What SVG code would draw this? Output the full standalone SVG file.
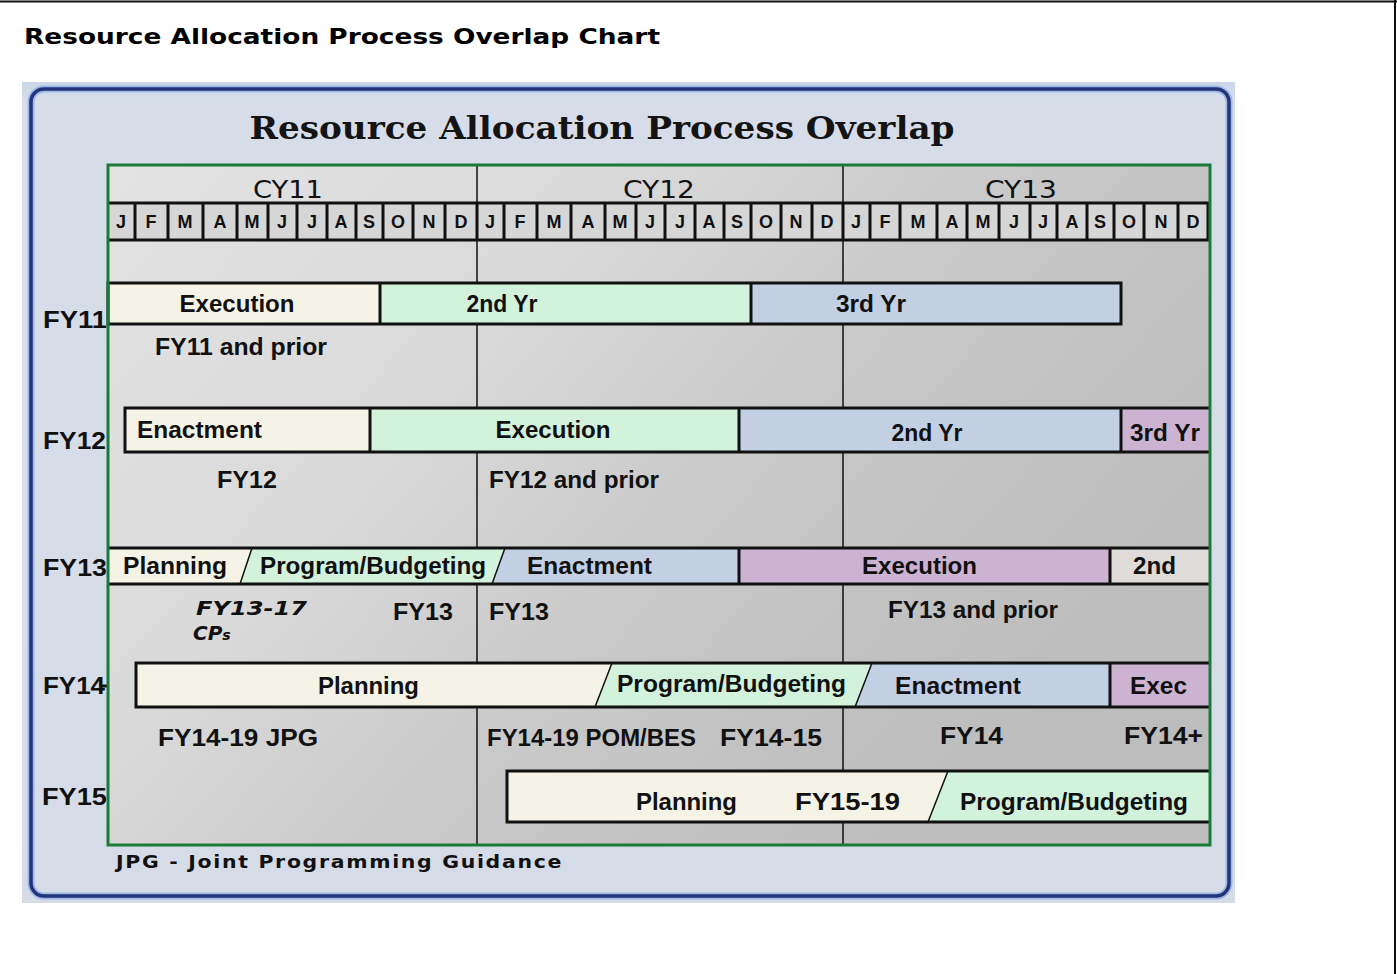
<svg xmlns="http://www.w3.org/2000/svg" width="1397" height="974" viewBox="0 0 1397 974">
<defs>
<linearGradient id="chartBg" x1="0" y1="0" x2="1" y2="0.55">
<stop offset="0" stop-color="#e3e3e3"/>
<stop offset="0.35" stop-color="#dadada"/>
<stop offset="0.6" stop-color="#cbcbcb"/>
<stop offset="0.8" stop-color="#c2c2c2"/>
<stop offset="1" stop-color="#bdbdbd"/>
</linearGradient>
<linearGradient id="panelBg" x1="0" y1="0" x2="0" y2="1">
<stop offset="0" stop-color="#c9d6ea"/>
<stop offset="0.02" stop-color="#d6dde9"/>
<stop offset="1" stop-color="#d6dce7"/>
</linearGradient>
<style>
.bt{font-family:"Liberation Sans",Arial,sans-serif;font-weight:bold;font-size:23px;fill:#111;text-anchor:middle}
.fy{font-family:"Liberation Sans",Arial,sans-serif;font-weight:bold;font-size:23px;fill:#111}
.mo{font-family:"Liberation Sans",Arial,sans-serif;font-weight:bold;font-size:18px;fill:#111;text-anchor:middle}
.cy{font-family:"DejaVu Sans",Verdana,sans-serif;font-size:24px;fill:#111;text-anchor:middle}
.it{font-family:"DejaVu Sans",Verdana,sans-serif;font-weight:bold;font-style:italic;font-size:20px;fill:#111}
.cream{fill:#f5f3e6}
.mint{fill:#d2f2dc}
.blue{fill:#c3cfe3}
.purple{fill:#cdb3d2}
.gray2{fill:#dfdbd9}
.ol{fill:none;stroke:#111;stroke-width:3}
.sep{stroke:#111;stroke-width:3}
.sl{stroke:#111;stroke-width:1.5}
.grid{stroke:#111;stroke-width:1.5}
</style>
</defs>
<rect x="0" y="0" width="1397" height="974" fill="#ffffff"/>
<g id="page-frame">
<line x1="0" y1="1.5" x2="1397" y2="1.5" stroke="#111" stroke-width="2"/>
<line x1="1395" y1="0" x2="1395" y2="974" stroke="#111" stroke-width="2"/>
</g>
<text id="page-title" x="24" y="44" font-family="DejaVu Sans, Verdana, sans-serif" font-weight="bold" font-size="21" fill="#000" textLength="636" lengthAdjust="spacingAndGlyphs">Resource Allocation Process Overlap Chart</text>

<g id="panel">
<rect x="22" y="82" width="1213" height="821" fill="url(#panelBg)"/>
<rect x="31" y="89" width="1198" height="807" rx="13" fill="none" stroke="#9bb8e6" stroke-width="7"/>
<rect x="31" y="89" width="1198" height="807" rx="13" fill="none" stroke="#25337a" stroke-width="3.5"/>
<text x="602" y="139" font-family="DejaVu Serif, Georgia, serif" font-weight="bold" font-size="31" fill="#141414" text-anchor="middle" textLength="705" lengthAdjust="spacingAndGlyphs">Resource Allocation Process Overlap</text>
</g>

<g id="chart-area">
<rect x="108" y="165" width="1102" height="680" fill="url(#chartBg)"/>
</g>

<g id="grid">
<line class="grid" x1="477" y1="165" x2="477" y2="845"/>
<line class="grid" x1="843" y1="165" x2="843" y2="845"/>
</g>

<g id="year-header">
<text class="cy" x="288" y="198" textLength="70" lengthAdjust="spacingAndGlyphs">CY11</text>
<text class="cy" x="659" y="198" textLength="72" lengthAdjust="spacingAndGlyphs">CY12</text>
<text class="cy" x="1021" y="198" textLength="72" lengthAdjust="spacingAndGlyphs">CY13</text>
</g>

<g id="month-row">
<rect x="108" y="203" width="1102" height="37" fill="#d6d6d6"/>
<line class="sep" x1="108" y1="203" x2="1210" y2="203"/>
<line class="sep" x1="108" y1="240" x2="1210" y2="240"/>
<g class="sep">
<line x1="135" y1="203" x2="135" y2="240"/><line x1="168" y1="203" x2="168" y2="240"/><line x1="203" y1="203" x2="203" y2="240"/><line x1="237" y1="203" x2="237" y2="240"/><line x1="268" y1="203" x2="268" y2="240"/><line x1="297" y1="203" x2="297" y2="240"/><line x1="327" y1="203" x2="327" y2="240"/><line x1="356" y1="203" x2="356" y2="240"/><line x1="383" y1="203" x2="383" y2="240"/><line x1="413" y1="203" x2="413" y2="240"/><line x1="445" y1="203" x2="445" y2="240"/><line x1="477" y1="203" x2="477" y2="240"/>
<line x1="504" y1="203" x2="504" y2="240"/><line x1="537" y1="203" x2="537" y2="240"/><line x1="571" y1="203" x2="571" y2="240"/><line x1="605" y1="203" x2="605" y2="240"/><line x1="636" y1="203" x2="636" y2="240"/><line x1="665" y1="203" x2="665" y2="240"/><line x1="695" y1="203" x2="695" y2="240"/><line x1="724" y1="203" x2="724" y2="240"/><line x1="751" y1="203" x2="751" y2="240"/><line x1="781" y1="203" x2="781" y2="240"/><line x1="812" y1="203" x2="812" y2="240"/><line x1="843" y1="203" x2="843" y2="240"/>
<line x1="870" y1="203" x2="870" y2="240"/><line x1="900" y1="203" x2="900" y2="240"/><line x1="937" y1="203" x2="937" y2="240"/><line x1="967" y1="203" x2="967" y2="240"/><line x1="999" y1="203" x2="999" y2="240"/><line x1="1030" y1="203" x2="1030" y2="240"/><line x1="1057" y1="203" x2="1057" y2="240"/><line x1="1087" y1="203" x2="1087" y2="240"/><line x1="1114" y1="203" x2="1114" y2="240"/><line x1="1144" y1="203" x2="1144" y2="240"/><line x1="1178" y1="203" x2="1178" y2="240"/><line x1="1208" y1="203" x2="1208" y2="240"/>
</g>
<text class="mo" x="121" y="228">J</text><text class="mo" x="151" y="228">F</text><text class="mo" x="185" y="228">M</text><text class="mo" x="220" y="228">A</text><text class="mo" x="252" y="228">M</text><text class="mo" x="282" y="228">J</text><text class="mo" x="312" y="228">J</text><text class="mo" x="341" y="228">A</text><text class="mo" x="369" y="228">S</text><text class="mo" x="398" y="228">O</text><text class="mo" x="429" y="228">N</text><text class="mo" x="461" y="228">D</text>
<text class="mo" x="490" y="228">J</text><text class="mo" x="520" y="228">F</text><text class="mo" x="554" y="228">M</text><text class="mo" x="588" y="228">A</text><text class="mo" x="620" y="228">M</text><text class="mo" x="650" y="228">J</text><text class="mo" x="680" y="228">J</text><text class="mo" x="709" y="228">A</text><text class="mo" x="737" y="228">S</text><text class="mo" x="766" y="228">O</text><text class="mo" x="796" y="228">N</text><text class="mo" x="827" y="228">D</text>
<text class="mo" x="856" y="228">J</text><text class="mo" x="885" y="228">F</text><text class="mo" x="918" y="228">M</text><text class="mo" x="952" y="228">A</text><text class="mo" x="983" y="228">M</text><text class="mo" x="1014" y="228">J</text><text class="mo" x="1043" y="228">J</text><text class="mo" x="1072" y="228">A</text><text class="mo" x="1100" y="228">S</text><text class="mo" x="1129" y="228">O</text><text class="mo" x="1161" y="228">N</text><text class="mo" x="1193" y="228">D</text>
</g>

<g id="fy11">
<rect class="cream" x="108" y="283" width="272" height="41"/>
<rect class="mint" x="380" y="283" width="371" height="41"/>
<rect class="blue" x="751" y="283" width="370" height="41"/>
<rect class="ol" x="108" y="283" width="1013" height="41"/>
<line class="sep" x1="380" y1="283" x2="380" y2="324"/>
<line class="sep" x1="751" y1="283" x2="751" y2="324"/>
<text class="bt" x="237" y="312" textLength="115" lengthAdjust="spacingAndGlyphs">Execution</text>
<text class="bt" x="502" y="312" textLength="71" lengthAdjust="spacingAndGlyphs">2nd Yr</text>
<text class="bt" x="871" y="312" textLength="70" lengthAdjust="spacingAndGlyphs">3rd Yr</text>
<text class="bt" x="241" y="355" textLength="172" lengthAdjust="spacingAndGlyphs">FY11 and prior</text>
<text class="fy" x="43" y="328" textLength="64" lengthAdjust="spacingAndGlyphs">FY11</text>
</g>

<g id="fy12">
<rect class="cream" x="125" y="408" width="245" height="44"/>
<rect class="mint" x="370" y="408" width="369" height="44"/>
<rect class="blue" x="739" y="408" width="382" height="44"/>
<rect class="purple" x="1121" y="408" width="89" height="44"/>
<path class="ol" d="M1210,408 H125 V452 H1210"/>
<line class="sep" x1="370" y1="408" x2="370" y2="452"/>
<line class="sep" x1="739" y1="408" x2="739" y2="452"/>
<line class="sep" x1="1121" y1="408" x2="1121" y2="452"/>
<text class="bt" x="199.5" y="438" textLength="125" lengthAdjust="spacingAndGlyphs">Enactment</text>
<text class="bt" x="553" y="438" textLength="115" lengthAdjust="spacingAndGlyphs">Execution</text>
<text class="bt" x="927" y="441" textLength="71" lengthAdjust="spacingAndGlyphs">2nd Yr</text>
<text class="bt" x="1165" y="441" textLength="70" lengthAdjust="spacingAndGlyphs">3rd Yr</text>
<text class="bt" x="247" y="488" textLength="60" lengthAdjust="spacingAndGlyphs">FY12</text>
<text class="bt" x="574" y="488" textLength="170" lengthAdjust="spacingAndGlyphs">FY12 and prior</text>
<text class="fy" x="43" y="449" textLength="63" lengthAdjust="spacingAndGlyphs">FY12</text>
</g>

<g id="fy13">
<polygon class="cream" points="108,548 252,548 240,584 108,584"/>
<polygon class="mint" points="252,548 505,548 492,584 240,584"/>
<polygon class="blue" points="505,548 739,548 739,584 492,584"/>
<rect class="purple" x="739" y="548" width="371" height="36"/>
<rect class="gray2" x="1110" y="548" width="100" height="36"/>
<line class="sep" x1="108" y1="548" x2="1210" y2="548"/>
<line class="sep" x1="108" y1="584" x2="1210" y2="584"/>
<line class="sl" x1="252" y1="548" x2="240" y2="584"/>
<line class="sl" x1="505" y1="548" x2="492" y2="584"/>
<line class="sep" x1="739" y1="548" x2="739" y2="584"/>
<line class="sep" x1="1110" y1="548" x2="1110" y2="584"/>
<text class="bt" x="175" y="574" textLength="104" lengthAdjust="spacingAndGlyphs">Planning</text>
<text class="bt" x="373" y="574" textLength="226" lengthAdjust="spacingAndGlyphs">Program/Budgeting</text>
<text class="bt" x="589.5" y="574" textLength="125" lengthAdjust="spacingAndGlyphs">Enactment</text>
<text class="bt" x="919.5" y="574" textLength="115" lengthAdjust="spacingAndGlyphs">Execution</text>
<text class="bt" x="1154.5" y="574" textLength="43" lengthAdjust="spacingAndGlyphs">2nd</text>
<text class="it" x="196" y="615" textLength="111" lengthAdjust="spacingAndGlyphs">FY13-17</text>
<text class="it" x="193" y="640">CP<tspan font-size="14">s</tspan></text>
<text class="bt" x="423" y="620" textLength="60" lengthAdjust="spacingAndGlyphs">FY13</text>
<text class="bt" x="519" y="620" textLength="60" lengthAdjust="spacingAndGlyphs">FY13</text>
<text class="bt" x="973" y="618" textLength="170" lengthAdjust="spacingAndGlyphs">FY13 and prior</text>
<text class="fy" x="43" y="576" textLength="64" lengthAdjust="spacingAndGlyphs">FY13</text>
</g>

<g id="fy14">
<polygon class="cream" points="136,663 612,663 595,707 136,707"/>
<polygon class="mint" points="612,663 872,663 855,707 595,707"/>
<polygon class="blue" points="872,663 1110,663 1110,707 855,707"/>
<rect class="purple" x="1110" y="663" width="100" height="44"/>
<path class="ol" d="M1210,663 H136 V707 H1210"/>
<line class="sl" x1="612" y1="663" x2="595" y2="707"/>
<line class="sl" x1="872" y1="663" x2="855" y2="707"/>
<line class="sep" x1="1110" y1="663" x2="1110" y2="707"/>
<text class="bt" x="368.5" y="694" textLength="101" lengthAdjust="spacingAndGlyphs">Planning</text>
<text class="bt" x="731.5" y="692" textLength="229" lengthAdjust="spacingAndGlyphs">Program/Budgeting</text>
<text class="bt" x="958" y="694" textLength="126" lengthAdjust="spacingAndGlyphs">Enactment</text>
<text class="bt" x="1158.5" y="694" textLength="57" lengthAdjust="spacingAndGlyphs">Exec</text>
<text class="bt" x="238" y="746" textLength="160" lengthAdjust="spacingAndGlyphs">FY14-19 JPG</text>
<text class="bt" x="591.5" y="746" textLength="209" lengthAdjust="spacingAndGlyphs">FY14-19 POM/BES</text>
<text class="bt" x="771" y="746" textLength="102" lengthAdjust="spacingAndGlyphs">FY14-15</text>
<text class="bt" x="971.5" y="744" textLength="63" lengthAdjust="spacingAndGlyphs">FY14</text>
<text class="bt" x="1163.5" y="744" textLength="79" lengthAdjust="spacingAndGlyphs">FY14+</text>
<text class="fy" x="43" y="694" textLength="62" lengthAdjust="spacingAndGlyphs">FY14</text>
<line class="sep" x1="100" y1="686" x2="108" y2="686"/>
</g>

<g id="fy15">
<polygon class="cream" points="507,771 948,771 928,822 507,822"/>
<polygon class="mint" points="948,771 1210,771 1210,822 928,822"/>
<path class="ol" d="M1210,771 H507 V822 H1210"/>
<line class="sl" x1="948" y1="771" x2="928" y2="822"/>
<text class="bt" x="686.5" y="810" textLength="101" lengthAdjust="spacingAndGlyphs">Planning</text>
<text class="bt" x="847.5" y="810" textLength="105" lengthAdjust="spacingAndGlyphs">FY15-19</text>
<text class="bt" x="1074" y="810" textLength="228" lengthAdjust="spacingAndGlyphs">Program/Budgeting</text>
<text class="fy" x="42" y="805" textLength="65" lengthAdjust="spacingAndGlyphs">FY15</text>
</g>

<g id="chart-border">
<rect x="108" y="165" width="1102" height="680" fill="none" stroke="#1a7a3a" stroke-width="3"/>
</g>

<text id="footnote" x="116" y="868" font-family="DejaVu Sans, Verdana, sans-serif" font-weight="bold" font-size="18" letter-spacing="1.5" fill="#111" textLength="447" lengthAdjust="spacingAndGlyphs">JPG - Joint Programming Guidance</text>
</svg>
